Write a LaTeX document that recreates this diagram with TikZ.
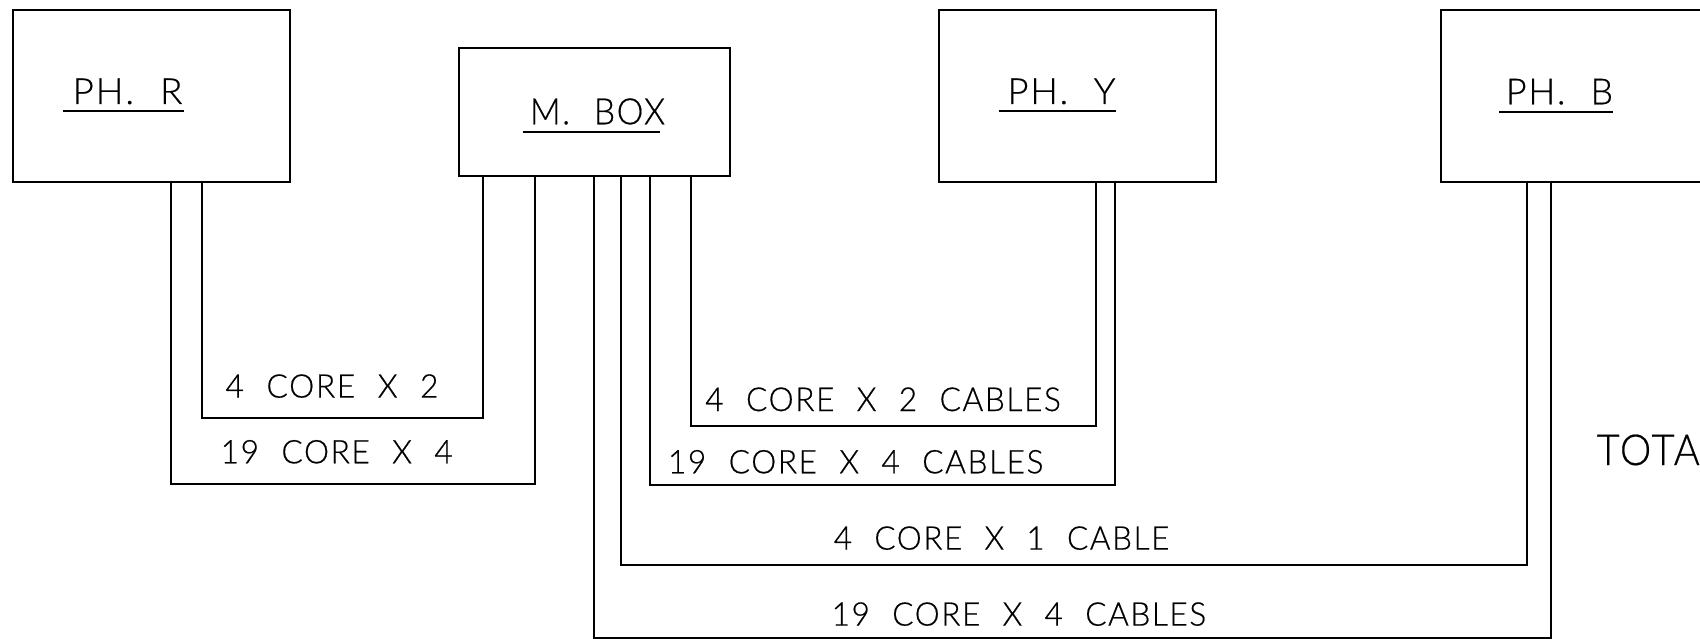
\documentclass[tikz,border=0pt]{standalone}
\usepackage{fontspec}
\usepackage{graphicx}
\setmainfont[WordSpace=2.2,LetterSpace=5,FakeBold=0.5]{Lato Light}
\newcommand{\fitw}[3]{\resizebox{#1pt}{#2pt}{#3}}
\tikzset{
  boxnode/.style={draw=black,line width=2pt,inner sep=0pt,fill=none},
  wire/.style={draw=black,line width=2pt,line join=miter},
  lbl/.style={anchor=base west,inner sep=0pt,outer sep=0pt,text=black},
  ul/.style={draw=black,line width=1.7pt}
}
\begin{document}
\begin{tikzpicture}[x=1pt,y=-1pt]
\useasboundingbox (0,0) rectangle (1700,639);
% boxes
\node[boxnode,minimum width=277pt,minimum height=172.6pt] (phr) at (151.5,96) {};
\node[boxnode,minimum width=270.6pt,minimum height=128.7pt] (mbox) at (594.3,112) {};
\node[boxnode,minimum width=277pt,minimum height=172.6pt] (phy) at (1077.5,96) {};
\node[boxnode,minimum width=277pt,minimum height=172.6pt] (phb) at (1579.2,96) {};
% corners of the connectors
\coordinate (a1) at (170.8,483.7); \coordinate (a2) at (534.6,483.7);
\coordinate (b1) at (202,418);     \coordinate (b2) at (483,418);
\coordinate (c1) at (691.3,426.3); \coordinate (c2) at (1095.8,426.3);
\coordinate (d1) at (650,485);     \coordinate (d2) at (1115,485);
\coordinate (e1) at (621.2,565.3); \coordinate (e2) at (1527,565.3);
\coordinate (f1) at (594.2,637.7); \coordinate (f2) at (1551.3,637.7);
% connectors
\draw[wire] (phr.south -| a1) -- (a1) -- (a2) -- (mbox.south -| a2);
\draw[wire] (phr.south -| b1) -- (b1) -- (b2) -- (mbox.south -| b2);
\draw[wire] (mbox.south -| c1) -- (c1) -- (c2) -- (phy.south -| c2);
\draw[wire] (mbox.south -| d1) -- (d1) -- (d2) -- (phy.south -| d2);
\draw[wire] (mbox.south -| e1) -- (e1) -- (e2) -- (phb.south -| e2);
\draw[wire] (mbox.south -| f1) -- (f1) -- (f2) -- (phb.south -| f2);
% titles
\node[lbl] (tr) at (72.5,104) {\fitw{110}{25.5}{PH. R}};
\node[lbl] (tm) at (530,124.3) {\fitw{135}{26}{M. BOX}};
\node[lbl] (ty) at (1007.5,104) {\fitw{108}{25.5}{PH. Y}};
\node[lbl] (tb) at (1506,104.3) {\fitw{107}{25.5}{PH. B}};
\draw[ul] (63,110.8) -- (183.7,110.8);
\draw[ul] (522.5,132.3) -- (660,132.3);
\draw[ul] (998.5,111) -- (1115.6,111);
\draw[ul] (1499.3,112) -- (1613,112);
% cable labels
\node[lbl] (l1) at (225.5,397.6) {\fitw{213}{23.3}{4 CORE X 2}};
\node[lbl] (l2) at (220.7,463.3) {\fitw{232}{23.3}{19 CORE X 4}};
\node[lbl] (l3) at (705.3,411) {\fitw{355.5}{23.6}{4 CORE X 2 CABLES}};
\node[lbl] (l4) at (668,473.3) {\fitw{375.5}{23.3}{19 CORE X 4 CABLES}};
\node[lbl] (l5) at (833.8,549.6) {\fitw{335.5}{23.3}{4 CORE X 1 CABLE}};
\node[lbl] (l6) at (831.7,625.6) {\fitw{374.5}{23.3}{19 CORE X 4 CABLES}};
\node[lbl] (tot) at (1596.7,465) {\fitw{103}{30.5}{TOTA}};
\end{tikzpicture}
\end{document}
